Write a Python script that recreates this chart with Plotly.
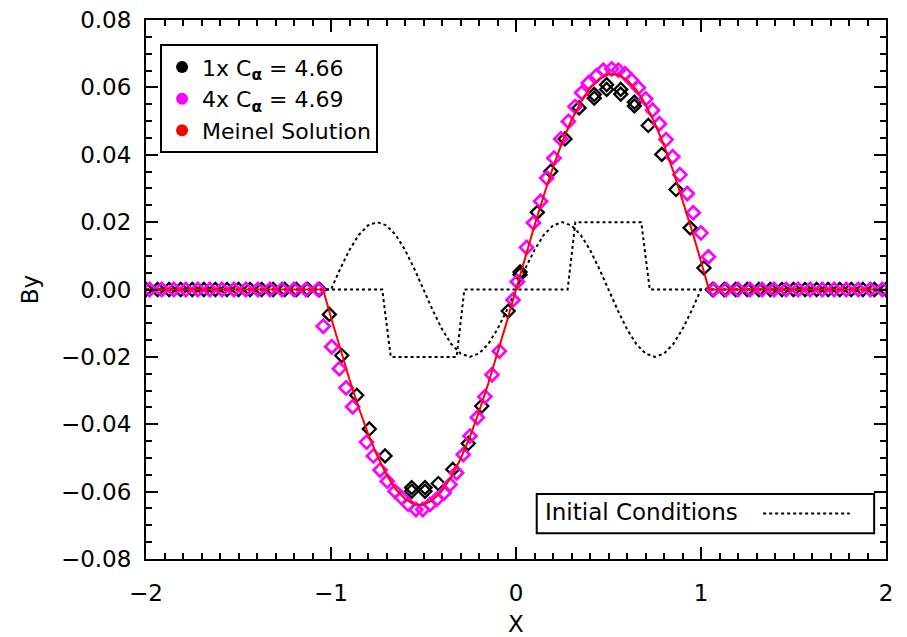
import plotly.graph_objects as go

# ---------------- data ----------------
# Meinel analytic solution (red line)
meinel_x = [-2.0, -1.043, -1.0, -0.95, -0.9, -0.85, -0.8, -0.75, -0.7, -0.65, -0.6, -0.55, -0.5,
            -0.45, -0.4, -0.35, -0.3, -0.25, -0.2, -0.15, -0.1, -0.05, 0.0,
            0.05, 0.1, 0.15, 0.2, 0.25, 0.3, 0.35, 0.4, 0.45, 0.5, 0.55, 0.6, 0.65, 0.7,
            0.75, 0.8, 0.85, 0.9, 0.95, 1.0, 1.043, 2.0]
meinel_y = [0.0, 0.0, -0.0083, -0.0177, -0.0267, -0.0351, -0.0428, -0.0494, -0.0550, -0.0593,
            -0.0622, -0.0638, -0.0639, -0.0625, -0.0598, -0.0556, -0.0503, -0.0438, -0.0363,
            -0.0279, -0.0190, -0.0096, 0.0,
            0.0096, 0.0190, 0.0279, 0.0363, 0.0438, 0.0503, 0.0556, 0.0598, 0.0625, 0.0639,
            0.0638, 0.0622, 0.0593, 0.0550, 0.0494, 0.0428, 0.0351, 0.0267, 0.0177, 0.0083,
            0.0, 0.0]

# Initial conditions (dotted): smooth wave and step profile
init_wave_x = [-2.0, -1.0, -0.95, -0.9, -0.85, -0.8, -0.75, -0.7, -0.65, -0.6, -0.55, -0.5,
               -0.45, -0.4, -0.35, -0.3, -0.25, -0.2, -0.15, -0.1, -0.05, 0.0,
               0.05, 0.1, 0.15, 0.2, 0.25, 0.3, 0.35, 0.4, 0.45, 0.5,
               0.55, 0.6, 0.65, 0.7, 0.75, 0.8, 0.85, 0.9, 0.95, 1.0, 2.0]
init_wave_y = [0.0, 0.0, 0.00618, 0.01176, 0.01618, 0.01902, 0.02, 0.01902, 0.01618, 0.01176,
               0.00618, 0.0, -0.00618, -0.01176, -0.01618, -0.01902, -0.02, -0.01902, -0.01618,
               -0.01176, -0.00618, 0.0,
               0.00618, 0.01176, 0.01618, 0.01902, 0.02, 0.01902, 0.01618, 0.01176, 0.00618, 0.0,
               -0.00618, -0.01176, -0.01618, -0.01902, -0.02, -0.01902, -0.01618, -0.01176,
               -0.00618, 0.0, 0.0]
init_step_x = [-2.0, -0.723, -0.677, -0.321, -0.279, 0.279, 0.321, 0.677, 0.723, 2.0]
init_step_y = [0.0, 0.0, -0.02, -0.02, 0.0, 0.0, 0.02, 0.02, 0.0, 0.0]

# 1x resolution run (black diamonds)
run1_x = [-2.0, -1.9375, -1.875, -1.8125, -1.75, -1.6875, -1.625, -1.5625, -1.5, -1.4375,
          -1.375, -1.3125, -1.25, -1.1875, -1.125, -1.0625,
          -1.009, -0.942, -0.861, -0.793, -0.708, -0.564, -0.564, -0.492, -0.492, -0.420,
          -0.342, -0.258, -0.185, -0.042,
          0.022, 0.022, 0.115, 0.188, 0.265, 0.341, 0.423, 0.423, 0.490, 0.490, 0.566, 0.566,
          0.640, 0.640, 0.715, 0.788, 0.865, 0.941, 1.016,
          1.0625, 1.125, 1.1875, 1.25, 1.3125, 1.375, 1.4375, 1.5, 1.5625, 1.625, 1.6875,
          1.75, 1.8125, 1.875, 1.9375, 2.0]
run1_y = [0.0, 0.0, 0.0, 0.0, 0.0, 0.0, 0.0, 0.0, 0.0, 0.0,
          0.0, 0.0, 0.0, 0.0, 0.0, 0.0,
          -0.0074, -0.0196, -0.0314, -0.0414, -0.0494, -0.0599, -0.0588, -0.0599, -0.0588, -0.0576,
          -0.0534, -0.0457, -0.0346, -0.0064,
          0.0044, 0.0052, 0.0229, 0.0351, 0.0447, 0.0539, 0.0579, 0.0568, 0.0608, 0.0594, 0.0594,
          0.0580, 0.0556, 0.0545, 0.0487, 0.0401, 0.0297, 0.0183, 0.0064,
          0.0, 0.0, 0.0, 0.0, 0.0, 0.0, 0.0, 0.0, 0.0, 0.0, 0.0,
          0.0, 0.0, 0.0, 0.0, 0.0]

# 4x resolution run (magenta diamonds)
run4_x = [-1.98, -1.915, -1.85, -1.785, -1.72, -1.655, -1.59, -1.525, -1.46, -1.395,
          -1.33, -1.265, -1.2, -1.135, -1.07,
          -1.042, -0.996, -0.955, -0.919, -0.883, -0.808, -0.771, -0.735, -0.696, -0.654,
          -0.618, -0.582, -0.541, -0.504, -0.465, -0.429, -0.389, -0.357, -0.321, -0.285,
          -0.249, -0.209, -0.168, -0.130, -0.090, -0.016,
          0.007, 0.057, 0.094, 0.133, 0.166, 0.205, 0.242, 0.283, 0.319, 0.355, 0.391,
          0.436, 0.472, 0.517, 0.553, 0.589, 0.625, 0.661, 0.701, 0.738, 0.775, 0.811,
          0.847, 0.886, 0.926, 0.958, 1.0, 1.040,
          1.07, 1.135, 1.2, 1.265, 1.33, 1.395, 1.46, 1.525, 1.59, 1.655, 1.72, 1.785,
          1.85, 1.915, 1.98]
run4_y = [0.0, 0.0, 0.0, 0.0, 0.0, 0.0, 0.0, 0.0, 0.0, 0.0,
          0.0, 0.0, 0.0, 0.0, 0.0,
          -0.0109, -0.0170, -0.0235, -0.0292, -0.0348, -0.0453, -0.0494, -0.0536, -0.0569,
          -0.0599, -0.0618, -0.0638, -0.0653, -0.0653, -0.0638, -0.0623, -0.0604, -0.0579,
          -0.0544, -0.0490, -0.0435, -0.0380, -0.0318, -0.0253, -0.0183, -0.0031,
          0.0023, 0.0125, 0.0198, 0.0262, 0.0331, 0.0390, 0.0447, 0.0499, 0.0543, 0.0584,
          0.0613, 0.0635, 0.0651, 0.0655, 0.0651, 0.0641, 0.0621, 0.0599, 0.0566, 0.0532,
          0.0492, 0.0445, 0.0394, 0.0341, 0.0285, 0.0228, 0.0168, 0.0097,
          0.0, 0.0, 0.0, 0.0, 0.0, 0.0, 0.0, 0.0, 0.0, 0.0, 0.0, 0.0,
          0.0, 0.0, 0.0]

x_ticks = [-2, -1, 0, 1, 2]
x_tick_labels = ["\u22122", "\u22121", "0", "1", "2"]
y_ticks = [-0.08, -0.06, -0.04, -0.02, 0.0, 0.02, 0.04, 0.06, 0.08]
y_tick_labels = ["\u22120.08", "\u22120.06", "\u22120.04", "\u22120.02", "0.00",
                 "0.02", "0.04", "0.06", "0.08"]

legend_names = ["1x C<sub><b>\u03b1</b></sub> = 4.66",
                "4x C<sub><b>\u03b1</b></sub> = 4.69",
                "Meinel Solution"]
legend_colors = ["black", "#ff00ff", "#ff0000"]
initial_label = "Initial Conditions"

FONT = "DejaVu Sans"

fig = go.Figure()

# initial conditions
fig.add_trace(go.Scatter(x=init_wave_x, y=init_wave_y, mode="lines",
                         line=dict(color="black", width=2, dash="dot"), showlegend=False))
fig.add_trace(go.Scatter(x=init_step_x, y=init_step_y, mode="lines",
                         line=dict(color="black", width=2, dash="dot"), showlegend=False))

# runs
fig.add_trace(go.Scatter(x=run1_x, y=run1_y, mode="markers",
                         marker=dict(symbol="diamond-open", size=10, color="black",
                                     line=dict(width=2.3, color="black")),
                         showlegend=False))
fig.add_trace(go.Scatter(x=run4_x, y=run4_y, mode="markers",
                         marker=dict(symbol="diamond-open", size=10, color="#ff00ff",
                                     line=dict(width=2.7, color="#ff00ff")),
                         showlegend=False))
# analytic
fig.add_trace(go.Scatter(x=meinel_x, y=meinel_y, mode="lines",
                         line=dict(color="#ff0000", width=2), showlegend=False))

# legend entries (filled circles, as in the reference legend)
for name, col in zip(legend_names, legend_colors):
    fig.add_trace(go.Scatter(x=[None], y=[None], mode="markers", name=name,
                             marker=dict(symbol="circle", size=15, color=col),
                             showlegend=True))

axis_common = dict(showline=True, linecolor="black", linewidth=2, mirror="allticks",
                   ticks="inside", ticklen=12, tickwidth=2, tickcolor="black",
                   showgrid=False, zeroline=False, automargin=False,
                   tickfont=dict(family=FONT, size=23, color="black"))

fig.update_xaxes(range=[-2, 2], tickvals=x_ticks, ticktext=x_tick_labels,
                 ticklabelstandoff=12,
                 minor=dict(dtick=0.1, ticks="inside", ticklen=6, tickwidth=1.5,
                            tickcolor="black", showgrid=False),
                 title=dict(text="X", font=dict(family=FONT, size=23, color="black"),
                            standoff=12),
                 **axis_common)
fig.update_yaxes(range=[-0.08, 0.08], tickvals=y_ticks, ticktext=y_tick_labels,
                 ticklabelstandoff=8,
                 minor=dict(dtick=0.005, ticks="inside", ticklen=6, tickwidth=1.5,
                            tickcolor="black", showgrid=False),
                 title=dict(text="By", font=dict(family=FONT, size=23, color="black"),
                            standoff=16),
                 **axis_common)

# bottom-right "Initial Conditions" key
fig.add_shape(type="rect", xref="paper", yref="paper", x0=0.528, x1=0.984, y0=0.048, y1=0.1206,
              line=dict(color="black", width=2), fillcolor="white", layer="above")
fig.add_annotation(xref="paper", yref="paper", x=0.537, y=0.0872, xanchor="left",
                   yanchor="middle", text=initial_label, showarrow=False,
                   font=dict(family=FONT, size=23, color="black"))
fig.add_shape(type="line", xref="paper", yref="paper", x0=0.834, x1=0.951, y0=0.0845, y1=0.0845,
              line=dict(color="black", width=2, dash="dot"), layer="above")

fig.update_layout(
    width=907, height=637,
    margin=dict(l=146, r=21, t=20, b=78),
    paper_bgcolor="white", plot_bgcolor="white",
    font=dict(family=FONT, size=23, color="black"),
    legend=dict(x=0.019, y=0.955, xanchor="left", yanchor="top",
                bgcolor="white", bordercolor="black", borderwidth=2,
                font=dict(family=FONT, size=22, color="black"),
                itemsizing="constant", tracegroupgap=0),
)

fig.write_html("out.html")
